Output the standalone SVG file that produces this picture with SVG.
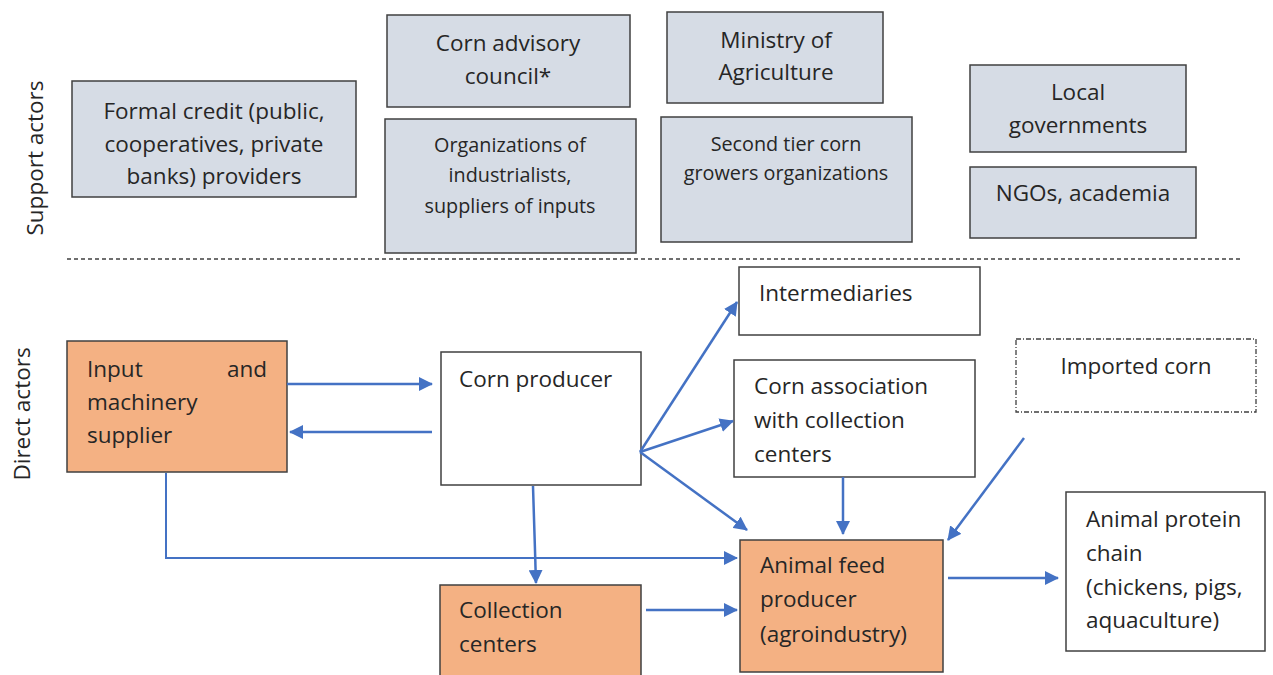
<svg xmlns="http://www.w3.org/2000/svg" width="1273" height="675" viewBox="0 0 1273 675">
<defs>
<marker id="ah" markerUnits="userSpaceOnUse" markerWidth="14" markerHeight="14" viewBox="0 0 14 14" refX="13" refY="7" orient="auto">
<path d="M0,0 L14,7 L0,14 Z" fill="#4472c4"/>
</marker>
<style>
.sup{fill:#d6dce5;stroke:#404040;stroke-width:1.5}
.dir{fill:#ffffff;stroke:#404040;stroke-width:1.5}
.org{fill:#f4b183;stroke:#404040;stroke-width:1.5}
text{font-family:"Open Sans",Lato,"Liberation Sans",sans-serif;fill:#262626}
.t21{font-size:22.5px}
.t18{font-size:19.8px}
.c{text-anchor:middle}
.ln{stroke:#4472c4;stroke-width:2.5;fill:none}
</style>
</defs>
<rect width="1273" height="675" fill="#ffffff"/>
<text class="t21 c" transform="translate(43,158) rotate(-90)">Support actors</text>
<text class="t21 c" transform="translate(30,414) rotate(-90)">Direct actors</text>
<line x1="67" y1="259" x2="1240" y2="259" stroke="#404040" stroke-width="1.3" stroke-dasharray="4,3"/>

<g id="formal-credit"><rect class="sup" x="72" y="81" width="284" height="116"/>
<text class="t21 c" x="214" y="119">Formal credit (public,</text>
<text class="t21 c" x="214" y="152">cooperatives, private</text>
<text class="t21 c" x="214" y="184">banks) providers</text></g>

<g id="corn-advisory"><rect class="sup" x="387" y="15" width="243" height="92"/>
<text class="t21 c" x="508" y="51">Corn advisory</text>
<text class="t21 c" x="508" y="84">council*</text></g>

<g id="org-industrialists"><rect class="sup" x="385" y="119" width="251" height="134"/>
<text class="t18 c" x="510" y="152">Organizations of</text>
<text class="t18 c" x="510" y="182">industrialists,</text>
<text class="t18 c" x="510" y="213">suppliers of inputs</text></g>

<g id="ministry"><rect class="sup" x="667" y="12" width="216" height="91"/>
<text class="t21 c" x="776" y="48">Ministry of</text>
<text class="t21 c" x="776" y="80">Agriculture</text></g>

<g id="second-tier"><rect class="sup" x="661" y="117" width="251" height="125"/>
<text class="t18 c" x="786" y="151">Second tier corn</text>
<text class="t18 c" x="786" y="180">growers organizations</text></g>

<g id="local-gov"><rect class="sup" x="970" y="65" width="216" height="87"/>
<text class="t21 c" x="1078" y="100">Local</text>
<text class="t21 c" x="1078" y="133">governments</text></g>

<g id="ngos"><rect class="sup" x="970" y="167" width="226" height="71"/>
<text class="t21 c" x="1083" y="201">NGOs, academia</text></g>

<g id="input-supplier"><rect class="org" x="67" y="341" width="220" height="131"/>
<text class="t21" x="87" y="377">Input</text>
<text class="t21" x="267" y="377" text-anchor="end">and</text>
<text class="t21" x="87" y="410">machinery</text>
<text class="t21" x="87" y="443">supplier</text></g>

<g id="corn-producer"><rect class="dir" x="441" y="352" width="200" height="133"/>
<text class="t21" x="459" y="387">Corn producer</text></g>

<g id="intermediaries"><rect class="dir" x="739" y="267" width="241" height="68"/>
<text class="t21" x="759" y="301">Intermediaries</text></g>

<g id="corn-association"><rect class="dir" x="734" y="360" width="241" height="117"/>
<text class="t21" x="754" y="394">Corn association</text>
<text class="t21" x="754" y="428">with collection</text>
<text class="t21" x="754" y="462">centers</text></g>

<g id="imported-corn"><rect x="1016" y="339" width="240" height="73" fill="#ffffff" stroke="#404040" stroke-width="1.3" stroke-dasharray="5,2,1,2"/>
<text class="t21 c" x="1136" y="374">Imported corn</text></g>

<g id="animal-protein"><rect class="dir" x="1066" y="492" width="199" height="159"/>
<text class="t21" x="1086" y="527">Animal protein</text>
<text class="t21" x="1086" y="561">chain</text>
<text class="t21" x="1086" y="595">(chickens, pigs,</text>
<text class="t21" x="1086" y="628">aquaculture)</text></g>

<g id="collection-centers"><rect class="org" x="440" y="585" width="201" height="100"/>
<text class="t21" x="459" y="618">Collection</text>
<text class="t21" x="459" y="652">centers</text></g>

<g id="animal-feed"><rect class="org" x="740" y="540" width="203" height="132"/>
<text class="t21" x="760" y="573">Animal feed</text>
<text class="t21" x="760" y="607">producer</text>
<text class="t21" x="760" y="642">(agroindustry)</text></g>

<g id="connectors">
<line class="ln" x1="287" y1="384" x2="432" y2="384" marker-end="url(#ah)"/>
<line class="ln" x1="432" y1="432" x2="290" y2="432" marker-end="url(#ah)"/>
<line class="ln" x1="640" y1="452" x2="737" y2="302" marker-end="url(#ah)"/>
<line class="ln" x1="640" y1="452" x2="733" y2="421" marker-end="url(#ah)"/>
<line class="ln" x1="640" y1="452" x2="747" y2="530" marker-end="url(#ah)"/>
<polyline class="ln" style="stroke-width:2" points="166,473 166,558 737,558" marker-end="url(#ah)"/>
<line class="ln" x1="533" y1="486" x2="536" y2="583" marker-end="url(#ah)"/>
<line class="ln" x1="646" y1="610" x2="737" y2="610" marker-end="url(#ah)"/>
<line class="ln" x1="843" y1="477" x2="843" y2="534" marker-end="url(#ah)"/>
<line class="ln" x1="1024" y1="438" x2="948" y2="540" marker-end="url(#ah)"/>
<line class="ln" x1="948" y1="578" x2="1058" y2="578" marker-end="url(#ah)"/>
</g>
</svg>
